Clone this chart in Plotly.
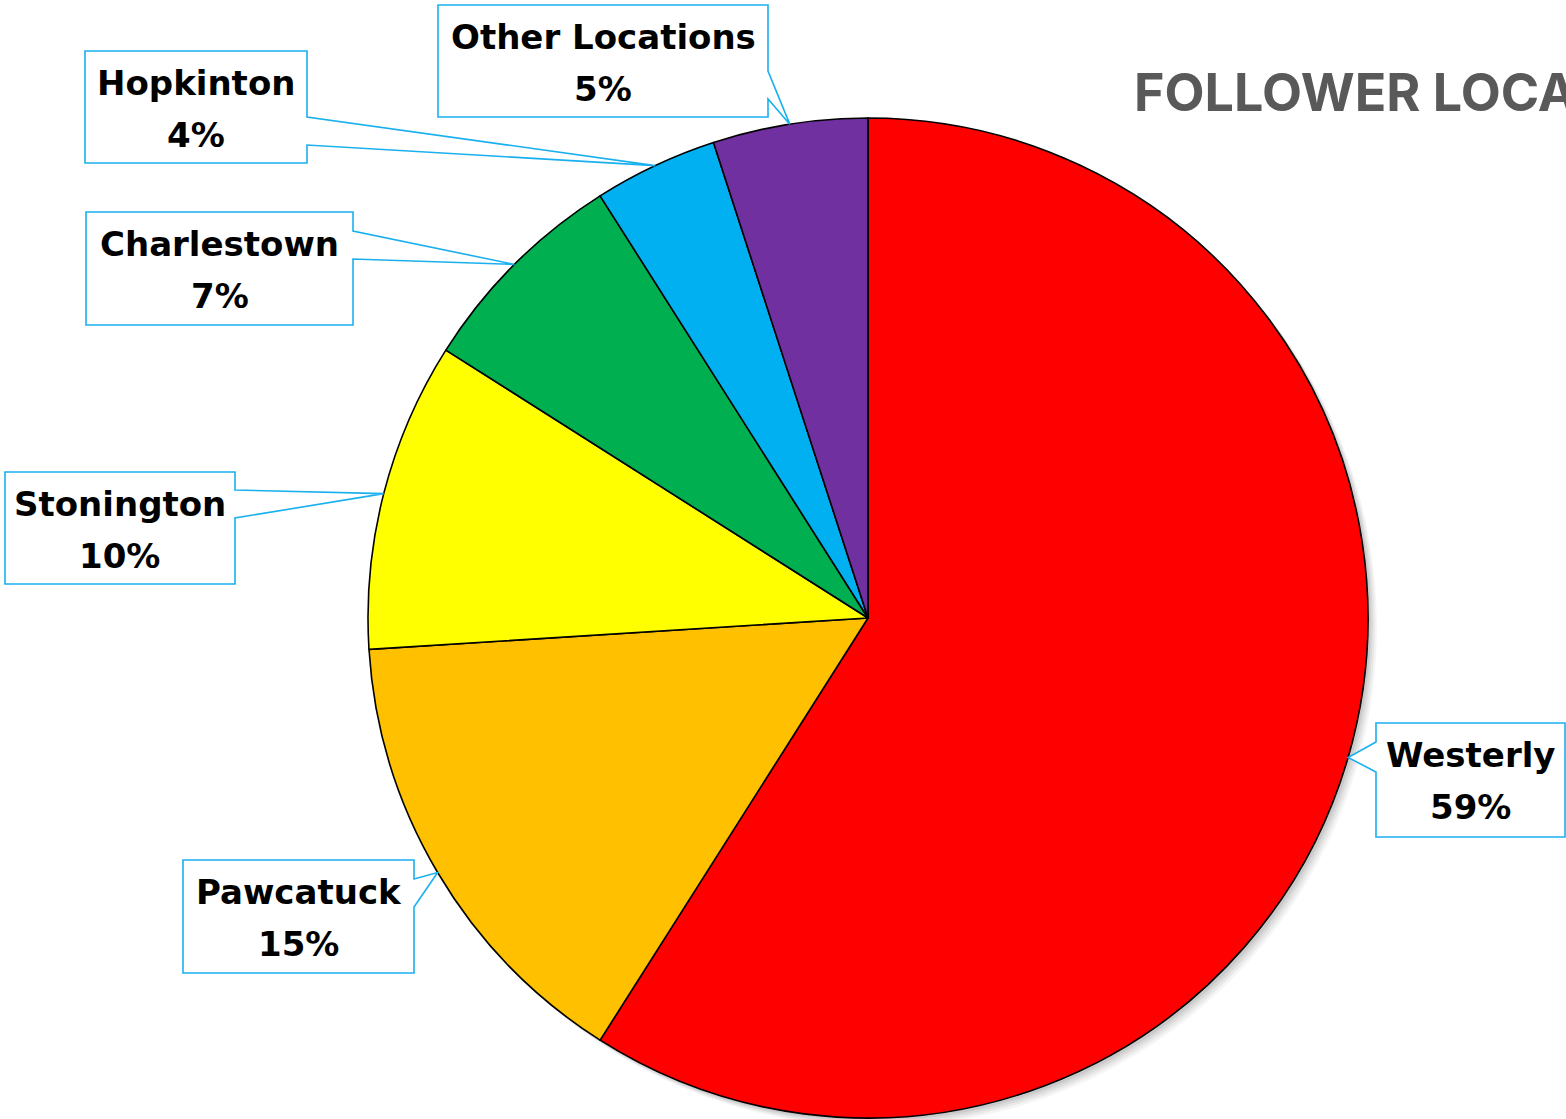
import math
import plotly.graph_objects as go

# ---- data ----
locations = ["Westerly", "Pawcatuck", "Stonington", "Charlestown", "Hopkinton", "Other Locations"]
shares = [59, 15, 10, 7, 4, 5]
colors = ["#FF0000", "#FFC000", "#FFFF00", "#00B050", "#00B0F0", "#7030A0"]
title_text = "FOLLOWER LOCATIONS"

W, H = 1566, 1119
CX, CY, R = 868, 618, 500  # pie centre / radius in px

def px(x):
    return x / W

def py(y):
    return 1 - y / H

# label callout boxes (px): x0, y0, x1, y1, pointer side, pointer base (a, b)
boxes = {
    "Westerly": (1376, 723, 1565, 837, "left", (742, 772)),
    "Pawcatuck": (183, 860, 414, 973, "right", (879, 907)),
    "Stonington": (5, 472, 235, 584, "right", (490, 518)),
    "Charlestown": (86, 212, 353, 325, "right", (231, 259)),
    "Hopkinton": (85, 51, 307, 163, "right", (117, 145)),
    "Other Locations": (438, 5, 768, 117, "right", (71, 99)),
}

fig = go.Figure()

fig.add_trace(go.Pie(
    labels=locations,
    values=shares,
    sort=False,
    direction="clockwise",
    rotation=0,
    marker=dict(colors=colors, line=dict(color="#000000", width=1.6)),
    textinfo="none",
    hoverinfo="label+percent",
    showlegend=False,
    domain=dict(x=[px(CX - R), px(CX + R)], y=[py(CY + R), py(CY - R)]),
))

shapes = []
# soft shadow behind pie
for off, op in [(9, 0.04), (7, 0.05), (5, 0.06), (3, 0.07)]:
    shapes.append(dict(
        type="circle", xref="paper", yref="paper", layer="below",
        x0=px(CX - R + off), x1=px(CX + R + off),
        y0=py(CY + R + off), y1=py(CY - R + off),
        fillcolor=f"rgba(0,0,0,{op})", line=dict(width=0),
    ))

annotations = []
total = sum(shares)
cum = 0
for name, val in zip(locations, shares):
    mid = (cum + val / 2) / total * 2 * math.pi
    cum += val
    tx = CX + R * math.sin(mid)
    ty = CY - R * math.cos(mid)
    x0, y0, x1, y1, side, (a, b) = boxes[name]
    if side == "right":
        pts = [(x0, y0), (x1, y0), (x1, a), (tx, ty), (x1, b), (x1, y1), (x0, y1)]
    else:
        pts = [(x0, y0), (x1, y0), (x1, y1), (x0, y1), (x0, b), (tx, ty), (x0, a)]
    path = "M " + " L ".join(f"{px(x):.5f},{py(y):.5f}" for x, y in pts) + " Z"
    shapes.append(dict(
        type="path", xref="paper", yref="paper", path=path, layer="above",
        fillcolor="white", line=dict(color="#1AB0EE", width=1.6),
    ))
    cxb = (x0 + x1) / 2
    pct = round(val / total * 100)
    for txt, dy in [(name, 32), (f"{pct}%", 84)]:
        annotations.append(dict(
            x=px(cxb), y=py(y0 + dy), xref="paper", yref="paper",
            text=f"<b>{txt}</b>", showarrow=False, xanchor="center", yanchor="middle",
            font=dict(family="DejaVu Sans", size=34, color="#000000"),
        ))

annotations.append(dict(
    x=px(1132), y=py(92), xref="paper", yref="paper",
    text=f"<b>{title_text}</b>", showarrow=False, xanchor="left", yanchor="middle",
    font=dict(family="Inter", size=52, color="#595959"),
))

fig.update_layout(
    width=W, height=H,
    margin=dict(l=0, r=0, t=0, b=0),
    paper_bgcolor="white", plot_bgcolor="white",
    shapes=shapes, annotations=annotations,
)

fig.write_html("out.html", config={"displayModeBar": False},
               post_script="document.body.style.margin='0px';")
